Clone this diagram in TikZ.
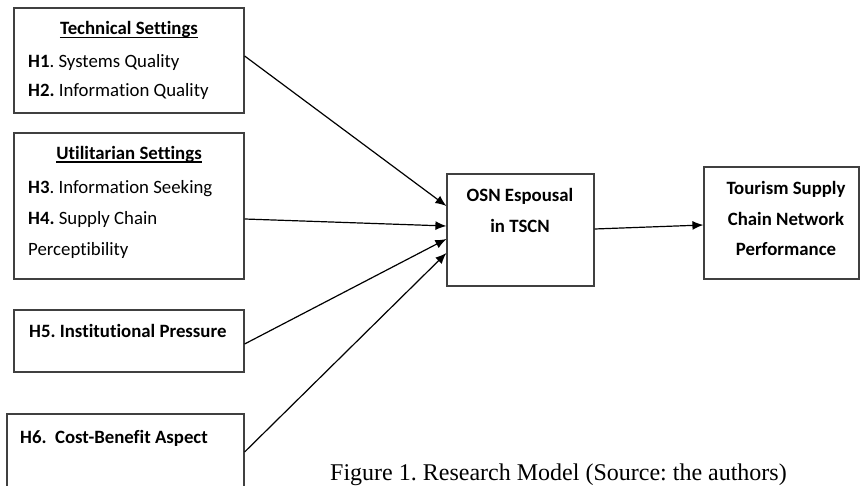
\documentclass[tikz,border=0pt]{standalone}
\usepackage{fontspec}
\setmainfont{Carlito}[Ligatures=NoCommon]
\newfontfamily\capfont{Liberation Serif}
\frenchspacing
\usepackage{tikz}
\usetikzlibrary{arrows.meta}
\usetikzlibrary{positioning}

\begin{document}
\begin{tikzpicture}[x=1pt, y=-1pt, >={Latex[length=11pt,width=9pt]},
  box/.style={draw=black!75, line width=1.2pt, inner sep=0pt},
  txt/.style={anchor=base west, inner sep=0pt, font=\fontsize{18.8}{21}\selectfont},
  hd/.style={anchor=base, inner sep=0pt, font=\fontsize{18.8}{21}\selectfont\bfseries},
  link/.style={->, line width=1.2pt}]
\useasboundingbox (0,0) rectangle (860,486);
\clip (0,0) rectangle (860,486);

%boxes
\node[box, minimum width=230pt, minimum height=105pt] (tech) at (129,60.5) {};
\node[box, minimum width=230pt, minimum height=146pt] (util) at (129,206) {};
\node[box, minimum width=230pt, minimum height=62pt] (inst) at (129,341) {};
\node[box, minimum width=237pt, minimum height=86pt] (cost) at (125.5,457) {};
\node[box, minimum width=147pt, minimum height=112pt] (osn) at (520.5,230) {};
\node[box, minimum width=155pt, minimum height=112pt] (perf) at (781.5,223) {};

%Technical
\node[hd] (techhd) at (129,35) {Technical Settings};
\draw[line width=1.5pt] ([yshift=-2.5pt]techhd.base west) -- ([yshift=-2.5pt]techhd.base east);
\node[txt] (hone) at (28,68) {\textbf{H1}. Systems Quality};
\node[txt] (htwo) at (28,97) {\textbf{H2.} Information Quality};

%Utilitarian
\node[hd] (utilhd) at (129,159.5) {Utilitarian Settings};
\draw[line width=1.5pt] ([yshift=-2.5pt]utilhd.base west) -- ([yshift=-2.5pt]utilhd.base east);
\node[txt] (hthree) at (28,194) {\textbf{H3}. Information Seeking};
\node[txt] (hfour) at (28,225) {\textbf{H4.} Supply Chain};
\node[txt] (hfourb) at (28,256) {Perceptibility};

\node[txt, font=\fontsize{18.8}{21}\selectfont\bfseries] (hfive) at (29,338) {H5. Institutional Pressure};
\node[txt, font=\fontsize{18.8}{21}\selectfont\bfseries] (hsix) at (20,443.5) {H6.\ \ Cost-Benefit Aspect};

%OSN
\node[hd] (osna) at (520,202) {OSN Espousal};
\node[hd] (osnb) at (520,233) {in TSCN};

%Performance
\node[hd] (perfa) at (786,195) {Tourism Supply};
\node[hd] (perfb) at (786,226) {Chain Network};
\node[hd] (perfc) at (786,256) {Performance};

%arrows
\draw[link] ([yshift=4.5pt]tech.east) -- ([yshift=24pt]osn.west);
\draw[link] ([yshift=-13pt]util.east) -- ([yshift=4pt]osn.west);
\draw[link] ([yshift=-3pt]inst.east) -- ([yshift=-9pt]osn.west);
\draw[link] ([yshift=5pt]cost.east) -- ([yshift=-23pt]osn.west);
\draw[link] ([yshift=1pt]osn.east) -- ([yshift=-2pt]perf.west);

\node[anchor=base, inner sep=0pt, font=\capfont\fontsize{24}{26}\selectfont] (caption) at (558.5,480) {Figure 1. Research Model (Source: the authors)};
\end{tikzpicture}
\end{document}
